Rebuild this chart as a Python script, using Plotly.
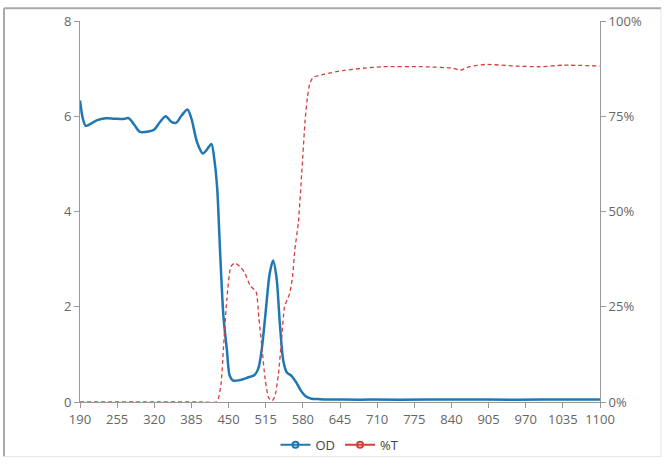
import plotly.graph_objects as go

# OD curve
od_x = [190, 195, 200, 210, 220, 235, 250, 265, 275, 285, 295, 310, 320, 330, 340, 350, 358, 368, 378,
        385, 395, 405, 412, 420, 425, 430, 435, 441, 447, 452, 458, 470, 485, 495, 502, 508, 515, 522,
        528, 534, 540, 546, 552, 560, 568, 576, 585, 595, 610, 650, 700, 800, 850, 900, 1000, 1100]
od_y = [6.33, 5.95, 5.80, 5.85, 5.92, 5.96, 5.95, 5.94, 5.96, 5.82, 5.67, 5.68, 5.72, 5.88, 6.00, 5.88, 5.86, 6.02, 6.14,
        5.95, 5.45, 5.22, 5.30, 5.42, 5.10, 4.50, 3.20, 1.80, 1.10, 0.55, 0.45, 0.46, 0.52, 0.56, 0.70, 1.10, 1.90, 2.70,
        2.97, 2.60, 1.60, 0.85, 0.62, 0.55, 0.42, 0.25, 0.12, 0.07, 0.06, 0.05, 0.05, 0.05, 0.055, 0.05, 0.05, 0.05]

# %T curve
t_x = [190, 300, 400, 428, 432, 437, 441, 447, 454, 461, 470, 478, 488, 498, 503, 508, 514, 520, 526, 531,
       537, 543, 548, 553, 557, 562, 566, 572, 578, 584, 588, 592, 598, 616, 650, 686, 720, 790, 843, 855,
       872, 900, 948, 995, 1036, 1100]
t_y = [0, 0, 0, 0, 0.8, 5, 14, 27, 35.5, 36.5, 35.5, 34, 30.5, 29, 22, 15, 6, 1.2, 0.3, 1.5,
       7, 17, 25, 27, 28.5, 33, 40, 47, 60, 74, 80, 83.5, 85.2, 86, 87, 87.6, 88, 88, 87.6, 87.1,
       88, 88.6, 88.2, 88, 88.4, 88.2]

x_ticks = list(range(190, 1101, 65))
y_ticks = [0, 2, 4, 6, 8]
y2_ticks = [0, 25, 50, 75, 100]
y2_labels = ["0%", "25%", "50%", "75%", "100%"]

BLUE = "#1f77b4"
RED = "#d43f3f"
AX = "#999999"
FONT = "Open Sans, Noto Sans, sans-serif"

fig = go.Figure()
fig.add_trace(go.Scatter(x=od_x, y=od_y, mode="lines", line=dict(color=BLUE, width=2.5, shape="spline", smoothing=0.8),
                         showlegend=False, hoverinfo="skip"))
fig.add_trace(go.Scatter(x=t_x, y=t_y, yaxis="y2", mode="lines",
                         line=dict(color=RED, width=1.3, dash="4px,3px", shape="spline", smoothing=0.6),
                         showlegend=False, hoverinfo="skip"))
# legend entries
fig.add_trace(go.Scatter(x=[None], y=[None], mode="lines+markers", name="OD",
                         line=dict(color=BLUE, width=2),
                         marker=dict(symbol="circle-open", size=6, color=BLUE, line=dict(width=2))))
fig.add_trace(go.Scatter(x=[None], y=[None], yaxis="y2", mode="lines+markers", name="%T",
                         line=dict(color=RED, width=2),
                         marker=dict(symbol="circle-open", size=6, color=RED, line=dict(width=2))))

W, H = 666, 472
L, R, T, B = 80, 66, 17, 64
pw, ph = W - L - R, H - T - B

def px2x(px):
    return (px - L) / pw

def py2y(py):
    return (H - B - py) / ph

shapes = [
    dict(type="line", xref="paper", yref="paper", x0=px2x(4), x1=px2x(661), y0=py2y(4), y1=py2y(4),
         line=dict(color="#aaaaaa", width=2)),
    dict(type="line", xref="paper", yref="paper", x0=px2x(4), x1=px2x(4), y0=py2y(4), y1=py2y(464),
         line=dict(color="#aaaaaa", width=2)),
    dict(type="line", xref="paper", yref="paper", x0=px2x(661), x1=px2x(661), y0=py2y(4), y1=py2y(464),
         line=dict(color="#e6e6e6", width=1)),
    dict(type="line", xref="paper", yref="paper", x0=px2x(4), x1=px2x(661), y0=py2y(464), y1=py2y(464),
         line=dict(color="#e6e6e6", width=1)),
]

fig.update_layout(
    width=W, height=H,
    margin=dict(l=L, r=R, t=T, b=B),
    paper_bgcolor="white", plot_bgcolor="white",
    font=dict(family=FONT, size=13, color="#666666"),
    shapes=shapes,
    xaxis=dict(range=[190, 1100], tickvals=x_ticks, ticks="outside", ticklen=5, tickcolor=AX,
               showline=True, linecolor=AX, linewidth=1, showgrid=False, zeroline=False,
               tickfont=dict(size=13, color="#666666")),
    yaxis=dict(range=[0, 8], tickvals=y_ticks, ticks="outside", ticklen=5, tickcolor=AX,
               showline=True, linecolor=AX, linewidth=1, showgrid=False, zeroline=False,
               tickfont=dict(size=13, color="#666666")),
    yaxis2=dict(range=[0, 100], tickvals=y2_ticks, ticktext=y2_labels, overlaying="y", side="right",
                ticks="outside", ticklen=5, tickcolor=AX, showline=True, linecolor=AX, linewidth=1,
                showgrid=False, zeroline=False, tickfont=dict(size=13, color="#666666")),
    legend=dict(orientation="h", x=0.5, xanchor="center", y=py2y(452), yanchor="middle",
                font=dict(size=13, color="#444444"), itemwidth=30, bgcolor="rgba(0,0,0,0)"),
)

post = ("document.body.style.margin='0';"
        "document.documentElement.style.overflow='hidden';"
        "var d=document.getElementById('{plot_id}'); d.style.overflow='hidden';")
fig.write_html("out.html", post_script=post, config={"displayModeBar": False})
